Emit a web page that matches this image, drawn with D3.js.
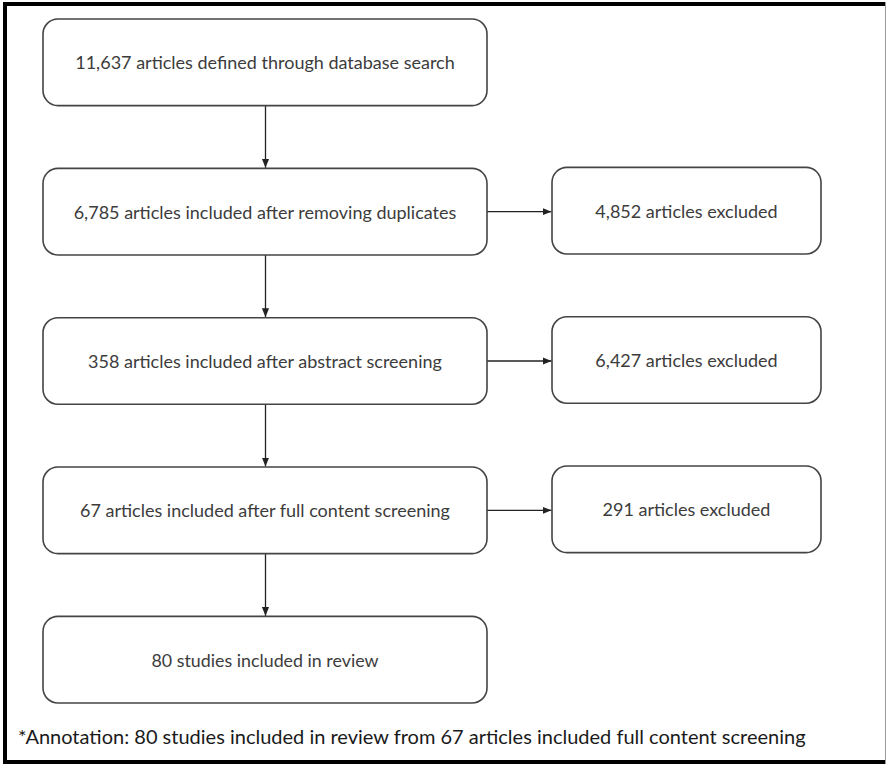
<!DOCTYPE html>
<html>
<head>
<meta charset="utf-8">
<script src="https://cdn.jsdelivr.net/npm/d3@7"></script>
<style>
  html, body { margin: 0; padding: 0; background: #fff; }
  svg { display: block; }
</style>
</head>
<body>
<svg id="chart" width="886" height="764"></svg>
<script>
// ---- data ----
const steps = [
  "11,637 articles defined through database search",
  "6,785 articles included after removing duplicates",
  "358 articles included after abstract screening",
  "67 articles included after full content screening",
  "80 studies included in review"
];
const exclusions = [
  { step: 1, label: "4,852 articles excluded" },
  { step: 2, label: "6,427 articles excluded" },
  { step: 3, label: "291 articles excluded" }
];
const annotation = "*Annotation: 80 studies included in review from 67 articles included full content screening";

// ---- layout ----
const svg = d3.select("#chart");
const W = 886, H = 764;
const stroke = "#444";
const textCol = "#3c3c3c";
const font = "Lato, 'Open Sans', sans-serif";
const fs = 18;

const y = d3.scaleBand().domain(d3.range(steps.length)).range([19, 703]).paddingInner(0.42).paddingOuter(0);
const leftX = 43, leftW = 444;
const rightX = 552, rightW = 269;
const r = 15;

svg.append("defs").append("marker")
  .attr("id", "arrow").attr("viewBox", "0 0 10 10")
  .attr("refX", 10).attr("refY", 5)
  .attr("markerWidth", 9).attr("markerHeight", 9)
  .attr("markerUnits", "userSpaceOnUse")
  .attr("orient", "auto")
  .append("path").attr("d", "M0,1 L10,5 L0,9 Z").attr("fill", "#222");

// outer frame
svg.append("rect").attr("x", 0).attr("y", 0).attr("width", W).attr("height", H).attr("fill", "#fff");
svg.append("line").attr("x1", 5).attr("y1", 4).attr("x2", 885).attr("y2", 4).attr("stroke", "#000").attr("stroke-width", 4);
svg.append("line").attr("x1", 5).attr("y1", 2).attr("x2", 5).attr("y2", 764).attr("stroke", "#000").attr("stroke-width", 4);
svg.append("line").attr("x1", 3).attr("y1", 762).attr("x2", 886).attr("y2", 762).attr("stroke", "#000").attr("stroke-width", 4);
svg.append("line").attr("x1", 885.5).attr("y1", 2).attr("x2", 885.5).attr("y2", 764).attr("stroke", "#999").attr("stroke-width", 1);

// vertical arrows
const cx = leftX + leftW / 2 + 0.5;
d3.range(steps.length - 1).forEach(i => {
  svg.append("line")
    .attr("x1", cx).attr("y1", y(i) + y.bandwidth())
    .attr("x2", cx).attr("y2", y(i + 1) - 0.5)
    .attr("stroke", "#222").attr("stroke-width", 1.3)
    .attr("marker-end", "url(#arrow)");
});

// horizontal arrows
exclusions.forEach(d => {
  const yy = y(d.step) + y.bandwidth() / 2;
  svg.append("line")
    .attr("x1", leftX + leftW).attr("y1", yy)
    .attr("x2", rightX - 0.5).attr("y2", yy)
    .attr("stroke", "#222").attr("stroke-width", 1.3)
    .attr("marker-end", "url(#arrow)");
});

// main boxes
const mg = svg.selectAll("g.step").data(steps).join("g").attr("class", "step");
mg.append("rect")
  .attr("x", leftX).attr("y", (d, i) => y(i))
  .attr("width", leftW).attr("height", y.bandwidth())
  .attr("rx", r).attr("ry", r)
  .attr("fill", "#fff").attr("stroke", stroke).attr("stroke-width", 1.6);
mg.append("text")
  .attr("x", leftX + leftW / 2).attr("y", (d, i) => y(i) + y.bandwidth() / 2)
  .attr("text-anchor", "middle").attr("dominant-baseline", "central")
  .attr("font-family", font).attr("font-size", fs).attr("fill", textCol)
  .each(function(d, i) { if (i === steps.length - 1) d3.select(this).attr("textLength", 227).attr("lengthAdjust", "spacingAndGlyphs"); })
  .text(d => d);

// exclusion boxes
const eg = svg.selectAll("g.excl").data(exclusions).join("g").attr("class", "excl");
eg.append("rect")
  .attr("x", rightX).attr("y", d => y(d.step) - 1)
  .attr("width", rightW).attr("height", y.bandwidth())
  .attr("rx", r).attr("ry", r)
  .attr("fill", "#fff").attr("stroke", stroke).attr("stroke-width", 1.6);
eg.append("text")
  .attr("x", rightX + rightW / 2)
  .attr("y", d => y(d.step) + y.bandwidth() / 2 - 1)
  .attr("text-anchor", "middle").attr("dominant-baseline", "central")
  .attr("font-family", font).attr("font-size", fs).attr("fill", textCol)
  .text(d => d.label);

// annotation
svg.append("text")
  .attr("x", 18).attr("y", 744)
  .attr("font-family", font).attr("font-size", 20).attr("fill", "#1a1a1a")
  .text(annotation);
</script>
</body>
</html>
